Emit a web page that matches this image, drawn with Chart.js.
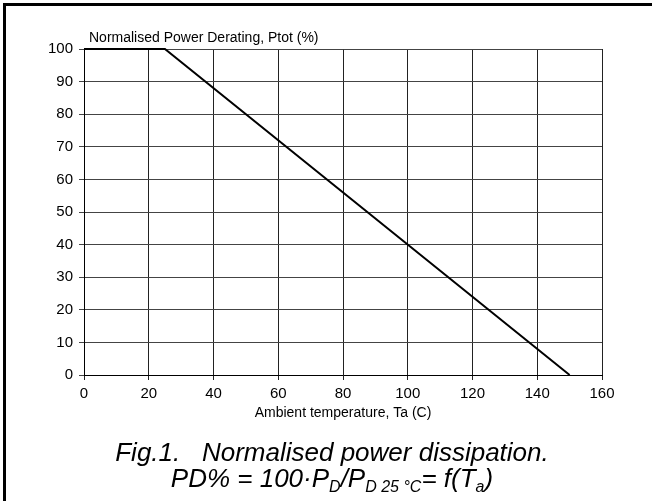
<!DOCTYPE html>
<html>
<head>
<meta charset="utf-8">
<script src="https://cdn.jsdelivr.net/npm/chart.js@4.4.1/dist/chart.umd.min.js"></script>
<style>
  body { margin: 0; background: #fff; }
  #wrap { position: relative; width: 652px; height: 501px; }
  canvas { position: absolute; left: 0; top: 0; }
  .cap {
    position: absolute; left: 6px; width: 652px; text-align: center;
    font-family: "Liberation Sans", Arial, sans-serif; font-style: italic;
    font-size: 26px; color: #000; white-space: pre; line-height: 1;
  }
  .cap sub { font-size: 16px; vertical-align: -5px; line-height: 0; }
</style>
</head>
<body>
<div id="wrap">
  <canvas id="myChart" width="652" height="501"></canvas>
  <div class="cap" style="top:439px">Fig.1.   Normalised power dissipation.</div>
  <div class="cap" style="top:465px">PD% = 100·P<sub>D</sub>/P<sub>D 25 °C</sub>= f(T<sub>a</sub>)</div>
</div>
<script>
// derating curve: flat to 25 C, then linear down to 0 at 150 C
const temps = [0, 25, 150];
const power = [100, 100, 0];
const yTitle = "Normalised Power Derating, Ptot (%)";
const xTitle = "Ambient temperature, Ta (C)";

const fontFam = '"Liberation Sans", Arial, sans-serif';

const extras = {
    id: "extras",
    beforeDraw(chart) {
        const ctx = chart.ctx;
        ctx.save();
        ctx.fillStyle = "#fff";
        ctx.fillRect(0, 0, chart.width, chart.height);
        // page frame only shows top and left
        ctx.fillStyle = "#000";
        ctx.fillRect(3, 3, chart.width - 3, 3);
        ctx.fillRect(3, 3, 3, chart.height - 3);
        ctx.restore();
    },
    afterDraw(chart) {
        const ctx = chart.ctx;
        const a = chart.chartArea;
        ctx.save();
        ctx.fillStyle = "#000";
        ctx.font = "14px " + fontFam;
        ctx.textBaseline = "middle";
        ctx.textAlign = "left";
        ctx.fillText(yTitle, a.left + 5, 38);
        ctx.textAlign = "center";
        ctx.fillText(xTitle, (a.left + a.right) / 2, 413);
        ctx.restore();
    }
};

new Chart(document.getElementById("myChart"), {
    type: "line",
    data: {
        datasets: [{
            data: temps.map((t, i) => ({ x: t, y: power[i] })),
            borderColor: "#000",
            borderWidth: 2,
            pointRadius: 0,
            tension: 0,
            clip: 4,
        }],
    },
    options: {
        responsive: false,
        animation: false,
        events: [],
        layout: { padding: { left: 0, top: 49, right: 50, bottom: 100 } },
        plugins: { legend: { display: false }, tooltip: { enabled: false } },
        scales: {
            x: {
                type: "linear",
                min: 0, max: 160,
                afterFit: (s) => { s.height = 26; },
                ticks: { stepSize: 20, color: "#000", font: { family: fontFam, size: 15 }, padding: 5 },
                grid: { color: "#222", lineWidth: 1, tickLength: 5 },
                border: { color: "#000", width: 1 },
            },
            y: {
                min: 0, max: 100,
                afterFit: (s) => { s.width = 84; },
                ticks: { stepSize: 10, color: "#000", font: { family: fontFam, size: 15 }, padding: 6 },
                grid: { color: "#444", lineWidth: 1, tickLength: 5 },
                border: { color: "#000", width: 1 },
            },
        },
    },
    plugins: [extras],
});
</script>
</body>
</html>
